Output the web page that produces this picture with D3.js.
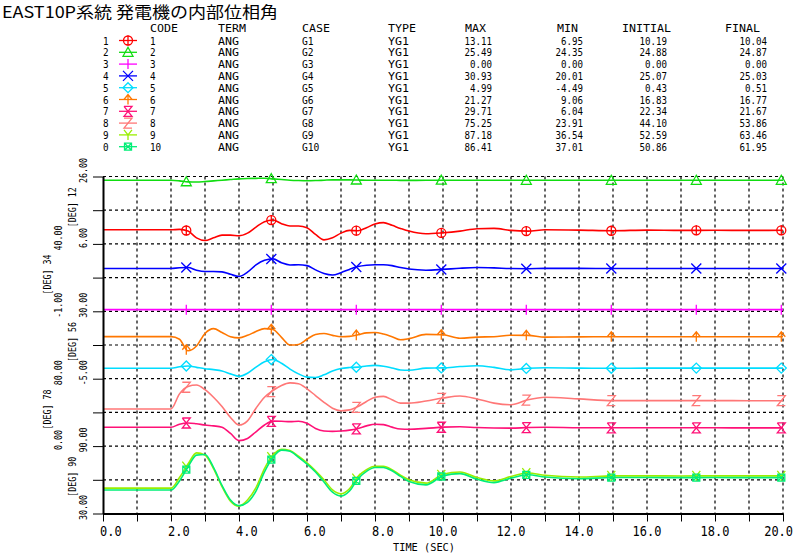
<!DOCTYPE html>
<html>
<head>
<meta charset="utf-8">
<script src="https://cdn.jsdelivr.net/npm/d3@7"></script>
<style>
  body { margin: 0; background: #fff; }
  text { font-family: "DejaVu Sans Mono", monospace; fill: #000; }
</style>
</head>
<body>
<svg id="chart" width="800" height="554"></svg>
<script>
{
  const TITLE = 'EAST10P系統 発電機の内部位相角';

  // header table
  const HEADS = ['CODE', 'TERM', 'CASE', 'TYPE', 'MAX', 'MIN', 'INITIAL', 'FINAL'];
  const ROW_NO = ['1', '2', '3', '4', '5', '6', '7', '8', '9', '0'];
  const CODES = ['1', '2', '3', '4', '5', '6', '7', '8', '9', '10'];
  const TERMS = ['ANG', 'ANG', 'ANG', 'ANG', 'ANG', 'ANG', 'ANG', 'ANG', 'ANG', 'ANG'];
  const CASES = ['G1', 'G2', 'G3', 'G4', 'G5', 'G6', 'G7', 'G8', 'G9', 'G10'];
  const TYPES = ['YG1', 'YG1', 'YG1', 'YG1', 'YG1', 'YG1', 'YG1', 'YG1', 'YG1', 'YG1'];
  const MAX_VALS = ['13.11', '25.49', '0.00', '30.93', '4.99', '21.27', '29.71', '75.25', '87.18', '86.41'];
  const MIN_VALS = ['6.95', '24.35', '0.00', '20.01', '-4.49', '9.06', '6.04', '23.91', '36.54', '37.01'];
  const INIT_VALS = ['10.19', '24.88', '0.00', '25.07', '0.43', '16.83', '22.34', '44.10', '52.59', '50.86'];
  const FINAL_VALS = ['10.04', '24.87', '0.00', '25.03', '0.51', '16.77', '21.67', '53.86', '63.46', '61.95'];

  const COLORS = ['#ff0000', '#11dd11', '#ff00ff', '#0000ff', '#00ddff',
                  '#ff7700', '#ff1177', '#ff7777', '#99ee00', '#00ee77'];
  const MARKERS = ['circle', 'triangle', 'plus', 'cross', 'diamond',
                   'arrow', 'hourglass', 'zed', 'wye', 'boxcross'];

  // each pair of series shares one band of the plot
  const GROUP_OF = [0, 0, 1, 1, 2, 2, 3, 3, 4, 4];
  const GROUP_UNITS = ['[DEG] 12', '[DEG] 34', '[DEG] 56', '[DEG] 78', '[DEG] 90'];
  const GROUP_MIN = [6, -1, -5, 0, 30];
  const GROUP_MAX = [26, 40, 30, 80, 90];
  const GROUP_MIN_LABELS = ['6.00', '-1.00', '-5.00', '0.00', '30.00'];
  const GROUP_MAX_LABELS = ['26.00', '40.00', '30.00', '80.00', '90.00'];

  const X_LABELS = ['0.0', '2.0', '4.0', '6.0', '8.0', '10.0', '12.0', '14.0', '16.0', '18.0', '20.0'];
  const MARK_TIMES = [2.45, 4.95, 7.45, 9.95, 12.45, 14.95, 17.45, 19.95];

  const TIME = [0, 2, 2.25, 2.5, 2.75, 3, 3.25, 3.5, 3.75, 4, 4.25, 4.5, 4.75, 5, 5.25, 5.5, 5.75,
                6, 6.25, 6.5, 6.75, 7, 7.25, 7.5, 7.75, 8, 8.25, 8.5, 8.75, 9,
                9.5, 10, 10.5, 11, 11.5, 12, 12.5, 13, 14, 15, 16, 17, 18, 19, 20];

  const G1 = [10.19, 10.19, 10.3, 9.8, 7.8, 7.0, 7.8, 8.6, 8.6, 8.4, 9.2, 11.0, 12.6, 13.1, 12.0, 11.3, 11.3,
              10.8, 8.8, 7.2, 7.8, 9.2, 10.0, 9.9, 10.8, 11.9, 12.3, 11.5, 10.6, 9.8,
              9.0, 9.3, 9.8, 10.5, 10.6, 10.0, 9.8, 10.2, 10.1, 9.9, 10.1, 10.0, 10.05, 10.0, 10.04];
  const G2 = [24.88, 24.88, 24.7, 24.4, 24.35, 24.5, 24.7, 24.9, 25.1, 25.3, 25.4, 25.45, 25.49, 25.3, 25.1, 24.9, 24.8,
              24.75, 24.8, 24.9, 25.0, 25.0, 25.0, 24.95, 24.9, 24.9, 24.9, 24.9, 24.85, 24.85,
              24.88, 24.9, 24.9, 24.88, 24.87, 24.87, 24.87, 24.87, 24.87, 24.87, 24.87, 24.87, 24.87, 24.87, 24.87];
  const G3 = [0, 0, 0, 0, 0, 0, 0, 0, 0, 0, 0, 0, 0, 0, 0, 0, 0,
              0, 0, 0, 0, 0, 0, 0, 0, 0, 0, 0, 0, 0,
              0, 0, 0, 0, 0, 0, 0, 0, 0, 0, 0, 0, 0, 0, 0];
  const G4 = [25.07, 25.07, 25.5, 25.6, 24.0, 23.2, 23.2, 23.0, 21.5, 20.2, 22.8, 27.2, 30.0, 30.9, 28.5, 27.2, 27.3,
              26.8, 24.2, 22.0, 21.1, 22.5, 24.5, 26.2, 27.0, 27.3, 27.3, 26.8, 25.6, 24.7,
              24.0, 24.5, 25.2, 25.6, 25.4, 25.0, 24.9, 25.1, 25.1, 25.0, 25.05, 25.0, 25.03, 25.03, 25.03];
  const G5 = [0.43, 0.43, 1.2, 1.6, 0.9, 0.2, -0.3, -1.0, -2.5, -3.8, -2.2, 1.0, 3.8, 5.0, 3.0, 0.0, -2.5,
              -4.2, -4.4, -3.0, -1.0, 0.3, 0.8, 1.0, 1.6, 1.9, 1.5, 0.6, -0.5, -0.6,
              0.5, 0.6, 1.3, 1.7, 0.9, -0.4, 0.4, 0.7, 0.5, 0.4, 0.5, 0.5, 0.5, 0.5, 0.51];
  const G6 = [16.83, 16.83, 15.5, 9.5, 12.0, 18.5, 21.0, 19.0, 16.8, 16.2, 17.5, 19.5, 21.0, 20.5, 16.5, 12.5, 12.8,
              15.5, 18.0, 18.5, 17.5, 16.8, 17.0, 17.8, 18.8, 19.0, 18.2, 16.8, 15.2, 15.8,
              18.0, 17.8, 16.0, 16.6, 16.8, 17.6, 17.5, 16.6, 16.7, 16.8, 16.8, 16.8, 16.8, 16.77, 16.77];
  const G7 = [22.34, 22.34, 26.0, 27.5, 26.5, 25.0, 24.0, 22.5, 15.0, 6.5, 9.0, 17.0, 25.0, 29.7, 29.5, 29.0, 29.5,
              27.0, 21.0, 18.0, 17.5, 18.0, 19.0, 21.0, 24.0, 26.0, 25.5, 22.5, 20.3, 20.0,
              21.0, 22.5, 23.0, 22.0, 21.5, 21.3, 22.0, 22.3, 21.8, 21.7, 21.8, 21.7, 21.7, 21.67, 21.67];
  const G8 = [44.1, 44.1, 62, 70.8, 72.5, 67, 58, 47, 34, 25, 30, 45, 58, 66, 72, 75, 74,
              68, 60, 52, 45, 42, 43, 47, 53, 58, 59, 55, 51, 51,
              53.5, 57, 59.5, 56, 51, 49, 55, 58, 56, 54, 54, 54, 54, 53.9, 53.86];
  const G9 = [52.59, 52.59, 62, 74, 84, 82, 70, 54, 41, 36.6, 42, 53, 70, 82, 87.2, 86, 81,
              75, 68, 60, 51, 47.5, 52, 63, 69, 72, 72, 69, 64, 60,
              57, 65, 67, 62, 59, 63, 66, 64, 62.5, 63.5, 63.5, 63.4, 63.5, 63.5, 63.46];
  const G10 = [50.86, 50.86, 59, 71.5, 82, 82.5, 71, 55, 42, 37.0, 40, 50, 67, 80, 86.4, 85.5, 80,
               74, 67, 58, 49, 45.5, 50, 61, 67.5, 71, 71, 68, 63, 58.5,
               55.5, 63.5, 65.5, 60.5, 57.5, 61.5, 64.5, 62.5, 61, 62, 62, 61.9, 62, 61.95, 61.95];
  const SERIES = [G1, G2, G3, G4, G5, G6, G7, G8, G9, G10];

  const svg = d3.select('#chart');

  const x = d3.scaleLinear().domain([0, 20]).range([103, 783]);
  const rowY = d3.scaleLinear().domain([0, 10]).range([176.5, 513.5]);
  const groupY = GROUP_MIN.map((mn, g) =>
    d3.scaleLinear().domain([mn, GROUP_MAX[g]]).range([rowY(2 * g + 2), rowY(2 * g)]));

  // squeeze text to the narrow bitmap look of the original
  function put(parent, px, py, str, anchor, perChar, size) {
    return parent.append('text')
      .attr('x', px)
      .attr('y', py)
      .attr('text-anchor', anchor)
      .attr('font-size', size)
      .attr('textLength', str.length * perChar)
      .attr('lengthAdjust', 'spacingAndGlyphs')
      .text(str);
  }

  function markerPath(type) {
    switch (type) {
      case 'triangle': return 'M0,-5L5,4L-5,4Z';
      case 'plus': return 'M0,-5V5';
      case 'cross': return 'M-5,-5L5,5M5,-5L-5,5';
      case 'diamond': return 'M0,-5L5,0L0,5L-5,0Z';
      case 'arrow': return 'M0,-5V5M-4,0L0,-5L4,0';
      case 'hourglass': return 'M-4,-5H4L-4,5H4L-4,-5';
      case 'zed': return 'M-4,-5H4L-4,5H4';
      case 'wye': return 'M-4,-5L0,0L4,-5M0,0V5';
      case 'boxcross': return 'M-3.5,-3.5H3.5V3.5H-3.5ZM-3.5,-3.5L3.5,3.5M3.5,-3.5L-3.5,3.5';
      default: return 'M0,-5V5';
    }
  }

  function drawMarker(parent, type, color, px, py) {
    const m = parent.append('g')
      .attr('transform', `translate(${px},${py})`)
      .attr('fill', 'none')
      .attr('stroke', color)
      .attr('stroke-width', 1.3);

    if (type === 'circle') {
      m.append('circle').attr('r', 4.5);
    }
    m.append('path').attr('d', markerPath(type));
  }

  // title
  put(svg, 2, 18, TITLE, 'start', 276 / TITLE.length, 16)
    .style('font-family', '"Noto Sans CJK JP", sans-serif');

  // table
  const table = svg.append('g');
  const headX = [150, 218, 302, 388, 465, 557, 622, 725];
  HEADS.forEach((h, i) => put(table, headX[i], 32, h, 'start', 7, 10));

  ROW_NO.forEach((n, i) => {
    const base = 44.5 + i * 11.8;
    const mid = base - 4;

    put(table, 103, base, n, 'start', 5.6, 10);

    table.append('line')
      .attr('x1', 119).attr('x2', 137)
      .attr('y1', mid).attr('y2', mid)
      .attr('stroke', COLORS[i])
      .attr('stroke-width', 1.3);
    drawMarker(table, MARKERS[i], COLORS[i], 128, mid);

    put(table, 150, base, CODES[i], 'start', 5.6, 10);
    put(table, 218, base, TERMS[i], 'start', 7, 10);
    put(table, 302, base, CASES[i], 'start', 5.8, 10);
    put(table, 388, base, TYPES[i], 'start', 7, 10);
    put(table, 492, base, MAX_VALS[i], 'end', 5.5, 10);
    put(table, 583, base, MIN_VALS[i], 'end', 5.5, 10);
    put(table, 667, base, INIT_VALS[i], 'end', 5.5, 10);
    put(table, 767, base, FINAL_VALS[i], 'end', 5.5, 10);
  });

  // grid
  const grid = svg.append('g')
    .attr('stroke', '#000')
    .attr('stroke-width', 1.2)
    .attr('stroke-dasharray', '3,3');

  grid.selectAll('.hgrid')
    .data(d3.range(0, 10))
    .join('line')
      .attr('x1', x(0)).attr('x2', x(20))
      .attr('y1', d => rowY(d)).attr('y2', d => rowY(d));

  grid.selectAll('.vgrid')
    .data(d3.range(1, 21))
    .join('line')
      .attr('x1', d => x(d)).attr('x2', d => x(d))
      .attr('y1', rowY(0)).attr('y2', rowY(10));

  // series
  const plot = svg.append('g');
  SERIES.forEach((vals, i) => {
    const yS = groupY[GROUP_OF[i]];
    const line = d3.line()
      .x((d, k) => x(TIME[k]))
      .y(d => yS(d))
      .curve(d3.curveMonotoneX);

    const path = plot.append('path')
      .attr('d', line(vals))
      .attr('fill', 'none')
      .attr('stroke', COLORS[i])
      .attr('stroke-width', 1.6);

    const node = path.node();
    const total = node.getTotalLength();

    MARK_TIMES.forEach((t) => {
      const px = x(t);
      let lo = 0;
      let hi = total;
      for (let k = 0; k < 30; k++) {
        const mid = (lo + hi) / 2;
        if (node.getPointAtLength(mid).x < px) lo = mid;
        else hi = mid;
      }
      const p = node.getPointAtLength(lo);
      drawMarker(plot, MARKERS[i], COLORS[i], p.x, p.y);
    });
  });

  // axes
  const yAxis = svg.append('g')
    .attr('transform', `translate(${x(0)},0)`)
    .call(d3.axisLeft(rowY).ticks(10).tickSize(10).tickSizeOuter(0).tickFormat(''));
  yAxis.select('.domain').attr('stroke-width', 2);

  const xAxis = svg.append('g')
    .attr('transform', `translate(0,${rowY(10)})`)
    .call(d3.axisBottom(x).ticks(20).tickSize(8).tickSizeOuter(0).tickFormat(''));
  xAxis.select('.domain').attr('stroke-width', 2);

  X_LABELS.forEach((lab, k) => {
    const tx = x(k * 2);
    if (lab.length < 4) put(svg, tx - 3, 536, lab, 'start', 7.2, 14);
    else if (k === X_LABELS.length - 1) put(svg, 793, 536, lab, 'end', 7.2, 14);
    else put(svg, tx, 536, lab, 'middle', 7.2, 14);
  });

  put(svg, 393, 550.5, 'TIME (SEC)', 'start', 6.2, 11);

  // band labels, rotated, alternating inner and outer columns
  GROUP_UNITS.forEach((unit, g) => {
    const inner = g % 2 === 0;
    const valX = inner ? 87 : 62;
    const unitX = inner ? 76 : 51;
    const top = rowY(2 * g);
    const bottom = rowY(2 * g + 2);

    const labels = [
      [GROUP_MAX_LABELS[g], valX, top - 6],
      [GROUP_MIN_LABELS[g], valX, bottom - 6],
      [unit, unitX, (top + bottom) / 2 - 3]
    ];

    labels.forEach(([str, lx, ly]) => {
      svg.append('text')
        .attr('transform', `translate(${lx},${ly}) rotate(-90)`)
        .attr('text-anchor', 'middle')
        .attr('font-size', 11)
        .attr('textLength', str.length * 5)
        .attr('lengthAdjust', 'spacingAndGlyphs')
        .text(str);
    });
  });
}
</script>
</body>
</html>
